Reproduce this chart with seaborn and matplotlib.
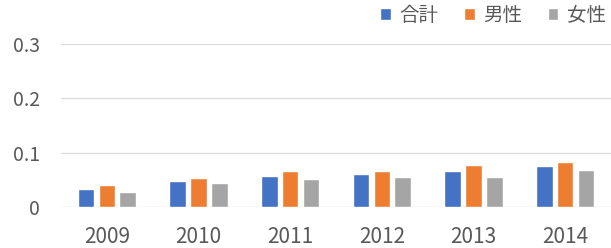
import matplotlib
matplotlib.use('Agg')
from matplotlib import pyplot as plt
import seaborn as sns
import pandas as pd

years = ['2009', '2010', '2011', '2012', '2013', '2014']
series_names = ['合計', '男性', '女性']
total = [0.034, 0.048, 0.057, 0.061, 0.067, 0.075]
male = [0.040, 0.054, 0.066, 0.067, 0.078, 0.083]
female = [0.028, 0.044, 0.052, 0.056, 0.056, 0.069]
y_ticks = [0, 0.1, 0.2, 0.3]
y_tick_labels = ['0', '0.1', '0.2', '0.3']

colors = ['#4472C4', '#ED7D31', '#A5A5A5']
text_color = '#595959'

rows = []
for name, values in zip(series_names, [total, male, female]):
    for year, value in zip(years, values):
        rows.append({'year': year, 'series': name, 'value': value})
data = pd.DataFrame(rows)

sns.set_style('white')
plt.rcParams['font.family'] = ['Noto Sans CJK JP', 'DejaVu Sans']

fig = plt.figure(figsize=(6.11, 2.48), dpi=100)
ax = fig.add_axes([61 / 611, 41 / 248, 550 / 611, 163 / 248])

sns.barplot(data=data, x='year', y='value', hue='series', order=years, hue_order=series_names,
            palette=colors, width=0.68, gap=0.2, saturation=1, ax=ax)

ax.set_ylim(0, 0.3)
ax.set_xlim(-0.5, len(years) - 0.5)
ax.set_yticks(y_ticks)
ax.set_yticklabels(y_tick_labels)
ax.set_xlabel('')
ax.set_ylabel('')
ax.yaxis.grid(True, color='#DDDDDD', linewidth=1)
ax.set_axisbelow(True)
for spine in ax.spines.values():
    spine.set_visible(False)
ax.tick_params(axis='y', length=0, labelsize=14, colors=text_color, pad=15)
ax.tick_params(axis='x', length=0, labelsize=15, colors=text_color, pad=14)

ax.legend(loc='upper right', bbox_to_anchor=(1.0, 1.0), bbox_transform=fig.transFigure, ncol=3,
          frameon=False, fontsize=14, handlelength=0.55, handleheight=0.55, handletextpad=0.45,
          columnspacing=1.3, labelcolor=text_color, borderaxespad=0.0, borderpad=0.25)

fig.savefig('out.png', dpi=100)
